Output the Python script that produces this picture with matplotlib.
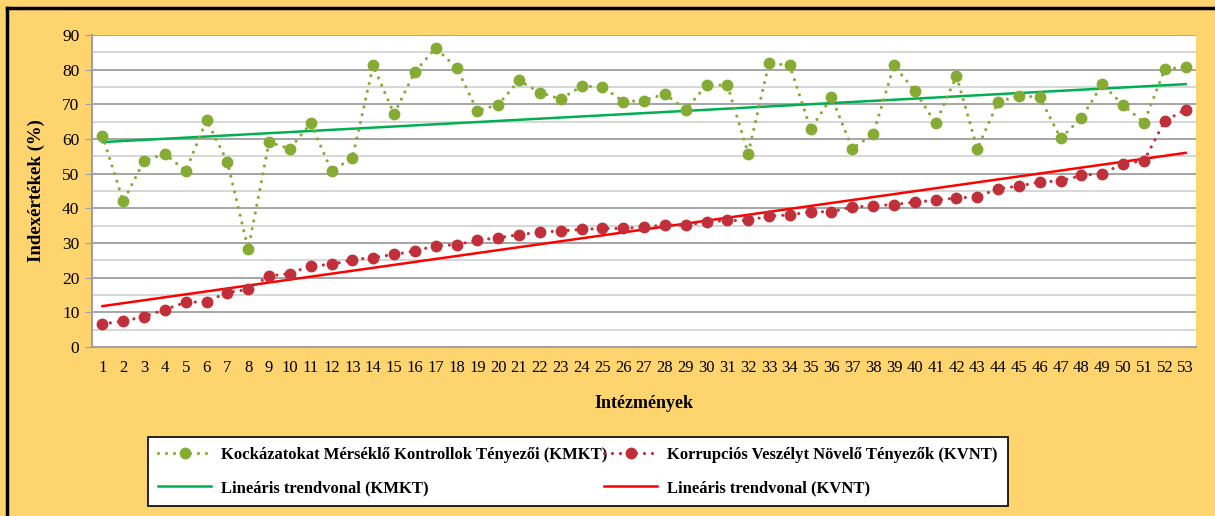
import numpy as np
import matplotlib
matplotlib.use("Agg")
import matplotlib.pyplot as plt
from matplotlib.lines import Line2D

# ---- data ----
institutions = list(range(1, 54))
kmkt = [61, 42, 53.7, 55.7, 50.8, 65.4, 53.4, 28.2, 59.1, 57.2,
        64.5, 50.8, 54.5, 81.2, 67.2, 79.4, 86.2, 80.6, 68.1, 69.9,
        76.9, 73.4, 71.5, 75.2, 75.1, 70.8, 71.1, 73.0, 68.5, 75.5,
        75.6, 55.8, 81.9, 81.2, 62.8, 72.1, 57.2, 61.4, 81.2, 73.9,
        64.5, 78.2, 57.2, 70.7, 72.5, 72.0, 60.2, 66.1, 75.8, 69.8,
        64.7, 80.1, 80.8]
kvnt = [6.7, 7.4, 8.8, 10.8, 12.9, 13.1, 15.7, 16.6, 20.5, 21.2,
        23.4, 23.8, 25.2, 25.8, 26.7, 27.7, 29.2, 29.5, 30.8, 31.5,
        32.4, 33.1, 33.5, 33.9, 34.2, 34.2, 34.6, 35.2, 35.1, 36.1,
        36.5, 36.5, 37.8, 38.1, 39.0, 39.0, 40.4, 40.7, 41.1, 41.8,
        42.3, 43.0, 43.3, 45.7, 46.4, 47.6, 47.9, 49.5, 50.0, 52.9,
        53.7, 65.2, 68.5]
y_ticks = [0, 10, 20, 30, 40, 50, 60, 70, 80, 90]
label_kmkt = "Kockázatokat Mérséklő Kontrollok Tényezői (KMKT)"
label_kvnt = "Korrupciós Veszélyt Növelő Tényezők (KVNT)"
label_tr_kmkt = "Lineáris trendvonal (KMKT)"
label_tr_kvnt = "Lineáris trendvonal (KVNT)"
x_title = "Intézmények"
y_title = "Indexértékek (%)"

# ---- style ----
BG = "#FDD46E"
GREEN = "#86AB34"
RED = "#C1303A"
TR_GREEN = "#00B050"
TR_RED = "#FF0000"
SERIF = ["Liberation Serif", "DejaVu Serif"]
plt.rcParams["font.family"] = SERIF

fig = plt.figure(figsize=(12.15, 5.16), dpi=100)
fig.patch.set_facecolor(BG)
ax = fig.add_axes([0.0757, 0.3275, 0.9087, 0.6047])
ax.set_facecolor("white")

x = np.array(institutions)
dot_style = (0, (0.001, 2.5))

l1, = ax.plot(x, kmkt, color=GREEN, lw=2.3, linestyle=dot_style,
              dash_capstyle="round", marker="o", markersize=7.5,
              markerfacecolor=GREEN, markeredgecolor=GREEN, zorder=4)
l2, = ax.plot(x, kvnt, color=RED, lw=2.3, linestyle=dot_style,
              dash_capstyle="round", marker="o", markersize=7.5,
              markerfacecolor=RED, markeredgecolor=RED, zorder=4)

# linear trend lines fitted from the data
pg = np.polyfit(x, kmkt, 1)
pr = np.polyfit(x, kvnt, 1)
t1, = ax.plot(x, np.polyval(pg, x), color=TR_GREEN, lw=1.8, zorder=3)
t2, = ax.plot(x, np.polyval(pr, x), color=TR_RED, lw=1.8, zorder=3)

ax.set_xlim(0.5, 53.5)
ax.set_ylim(0, 90)
ax.set_xticks(x)
ax.set_xticklabels([str(i) for i in institutions], fontsize=12)
ax.set_yticks(y_ticks)
ax.set_yticklabels([str(v) for v in y_ticks], fontsize=12.5)
ax.set_yticks(np.arange(5, 90, 10), minor=True)
ax.tick_params(axis="x", length=0, pad=9)
ax.tick_params(axis="y", which="major", length=5, color="#A0A0A0", pad=4)
ax.tick_params(axis="y", which="minor", length=0)
ax.grid(True, axis="y", which="major", color="#9E9E9E", lw=1.3, zorder=0)
ax.grid(True, axis="y", which="minor", color="#D3D3D3", lw=1.3, zorder=0)
ax.set_axisbelow(True)
for s in ["top", "right"]:
    ax.spines[s].set_visible(False)
for s in ["left", "bottom"]:
    ax.spines[s].set_color("#A0A0A0")
    ax.spines[s].set_linewidth(1.5)

ax.set_xlabel(x_title, fontsize=13, fontweight="bold", labelpad=14)
ax.set_ylabel(y_title, fontsize=13.5, fontweight="bold", labelpad=12)

leg = fig.legend([l1, t1, l2, t2],
                 [label_kmkt, label_tr_kmkt, label_kvnt, label_tr_kvnt],
                 ncol=2, loc="lower left",
                 bbox_to_anchor=(0.1218, 0.0194, 0.7078, 0.1298),
                 mode="expand", frameon=True, fancybox=False, framealpha=1.0,
                 prop={"family": SERIF, "weight": "bold", "size": 12},
                 handlelength=3.2, handletextpad=0.6, borderaxespad=0,
                 labelspacing=1.0, borderpad=0.6, columnspacing=0.5)
leg.get_frame().set_edgecolor("black")
leg.get_frame().set_linewidth(1.2)
leg.get_frame().set_facecolor("white")

# outer black frame (top and left edges visible in reference)
fig.add_artist(Line2D([0.0058, 0.0058], [0.0, 0.984], transform=fig.transFigure,
                      color="black", lw=2.5))
fig.add_artist(Line2D([0.0058, 1.0], [0.984, 0.984], transform=fig.transFigure,
                      color="black", lw=2.5))

fig.savefig("out.png", dpi=100, facecolor=BG)
